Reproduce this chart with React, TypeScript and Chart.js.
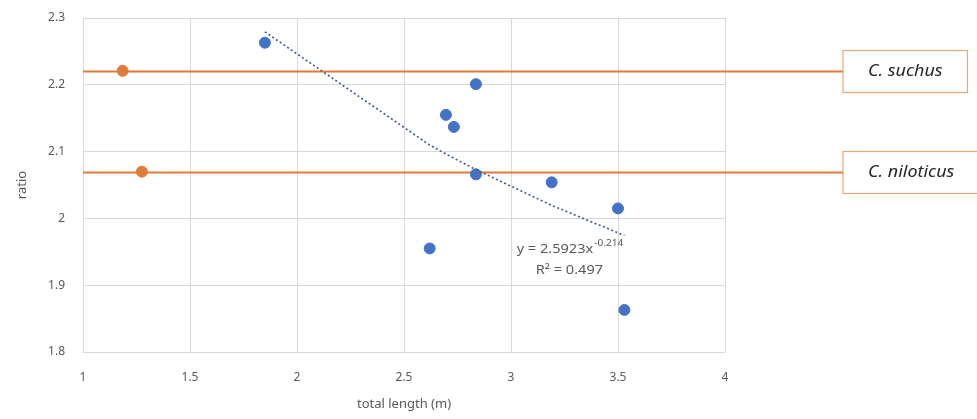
import React, { useEffect, useRef } from "react";
import { Chart, registerables } from "chart.js";

Chart.register(...registerables);

// ---- data ----
const lengthsM = [1.85, 2.836, 2.696, 2.733, 2.836, 3.19, 3.5, 2.62, 3.53];
const ratios = [2.263, 2.201, 2.155, 2.137, 2.066, 2.054, 2.015, 1.955, 1.863];

const speciesNames = ["C. suchus", "C. niloticus"];
const speciesX = [1.185, 1.275];
const speciesRatio = [2.221, 2.07];

const xTicks = [1, 1.5, 2, 2.5, 3, 3.5, 4];
const yTicks = [1.8, 1.9, 2.0, 2.1, 2.2, 2.3];

const equationText = "y = 2.5923x";
const equationExp = "-0.214";
const r2Text = "R² = 0.497";

// ---- power fit (ln y = ln a + b ln x), computed from data ----
function powerFit(xs: number[], ys: number[]) {
  const lx = xs.map(Math.log);
  const ly = ys.map(Math.log);
  const n = xs.length;
  const mx = lx.reduce((s, v) => s + v, 0) / n;
  const my = ly.reduce((s, v) => s + v, 0) / n;
  let sxy = 0, sxx = 0;
  for (let i = 0; i < n; i++) {
    sxy += (lx[i] - mx) * (ly[i] - my);
    sxx += (lx[i] - mx) ** 2;
  }
  const b = sxy / sxx;
  const a = Math.exp(my - b * mx);
  return { a, b };
}

const FONT = "'Noto Sans', 'DejaVu Sans', sans-serif";
const ORANGE = "#E07B39";
const BLUE = "#4472C4";
const GREY_TEXT = "#595959";

const annotationPlugin = {
  id: "speciesLines",
  beforeDatasetsDraw(chart: any) {
    const { ctx, scales } = chart;
    const xs = scales.x;
    const ys = scales.y;
    const boxLeft = 843;
    const boxH = 42;
    const sx = 1.12;
    ctx.save();
    ctx.font = `italic 16px ${FONT}`;
    speciesRatio.forEach((r, i) => {
      const y = Math.round(ys.getPixelForValue(r)) + 0.5;
      ctx.strokeStyle = ORANGE;
      ctx.lineWidth = 2;
      ctx.beginPath();
      ctx.moveTo(xs.left, y);
      ctx.lineTo(boxLeft, y);
      ctx.stroke();
      const tw = ctx.measureText(speciesNames[i]).width * sx;
      const w = tw + 50;
      ctx.fillStyle = "#ffffff";
      ctx.fillRect(boxLeft, y - boxH / 2, w, boxH);
      ctx.strokeStyle = "#E9A778";
      ctx.lineWidth = 1.2;
      ctx.strokeRect(boxLeft, y - boxH / 2, w, boxH);
      ctx.save();
      ctx.translate(boxLeft + w / 2, y);
      ctx.scale(sx, 1);
      ctx.fillStyle = "#262626";
      ctx.textAlign = "center";
      ctx.textBaseline = "middle";
      ctx.fillText(speciesNames[i], 0, 0);
      ctx.restore();
    });
    ctx.restore();
  },
  afterDatasetsDraw(chart: any) {
    const { ctx, scales } = chart;
    const px = scales.x.getPixelForValue(3.273);
    const py1 = scales.y.getPixelForValue(1.953);
    const py2 = scales.y.getPixelForValue(1.923);
    const sx = 1.12;
    ctx.save();
    ctx.fillStyle = GREY_TEXT;
    ctx.textBaseline = "middle";
    ctx.font = `13px ${FONT}`;
    const w1 = ctx.measureText(equationText).width * sx;
    ctx.font = `9px ${FONT}`;
    const w2 = ctx.measureText(equationExp).width * sx;
    const start = px - (w1 + w2) / 2;
    ctx.textAlign = "left";
    ctx.save();
    ctx.translate(start, py1);
    ctx.scale(sx, 1);
    ctx.font = `13px ${FONT}`;
    ctx.fillText(equationText, 0, 0);
    ctx.restore();
    ctx.save();
    ctx.translate(start + w1 + 1, py1 - 6);
    ctx.scale(sx, 1);
    ctx.font = `9px ${FONT}`;
    ctx.fillText(equationExp, 0, 0);
    ctx.restore();
    ctx.save();
    ctx.translate(px, py2);
    ctx.scale(sx, 1);
    ctx.font = `13px ${FONT}`;
    ctx.textAlign = "center";
    ctx.fillText(r2Text, 0, 0);
    ctx.restore();
    ctx.restore();
  },
};

export default function App() {
  const ref = useRef<HTMLCanvasElement | null>(null);

  useEffect(() => {
    if (!ref.current) return;
    const fit = powerFit(lengthsM, ratios);
    const sortedX = [...lengthsM].sort((p, q) => p - q);
    const trend = sortedX.map((x) => ({ x, y: fit.a * Math.pow(x, fit.b) }));

    const chart = new Chart(ref.current, {
      type: "scatter",
      data: {
        datasets: [
          {
            label: "trend",
            type: "line",
            data: trend,
            borderColor: "#3B5690",
            borderWidth: 1.6,
            borderDash: [2, 2.5],
            pointRadius: 0,
            fill: false,
            tension: 0,
          } as any,
          {
            label: "species",
            data: speciesX.map((x, i) => ({ x, y: speciesRatio[i] })),
            backgroundColor: ORANGE,
            borderColor: ORANGE,
            pointRadius: 5.5,
          },
          {
            label: "ratio",
            data: lengthsM.map((x, i) => ({ x, y: ratios[i] })),
            backgroundColor: BLUE,
            borderColor: BLUE,
            pointRadius: 5.5,
          },
        ],
      },
      options: {
        responsive: false,
        animation: false,
        layout: { padding: { left: 0, right: 252, top: 18, bottom: 0 } },
        plugins: {
          legend: { display: false },
          tooltip: { enabled: false },
        },
        scales: {
          x: {
            type: "linear",
            min: 1,
            max: 4,
            afterBuildTicks: (s: any) => {
              s.ticks = xTicks.map((v) => ({ value: v }));
            },
            afterFit: (s: any) => {
              s.height = 67;
              s.paddingLeft = 0;
              s.paddingRight = 0;
            },
            ticks: {
              padding: 18,
              color: GREY_TEXT,
              font: { family: FONT, size: 12 },
              callback: (v: any) => String(Number(Number(v).toFixed(2))),
            },
            grid: { color: "#D9D9D9", drawTicks: false, lineWidth: 1 },
            border: { display: false },
            title: {
              display: true,
              text: "total length (m)",
              color: GREY_TEXT,
              font: { family: FONT, size: 13 },
              padding: { top: 0, bottom: 7 },
            },
          },
          y: {
            type: "linear",
            min: 1.8,
            max: 2.3,
            afterBuildTicks: (s: any) => {
              s.ticks = yTicks.map((v) => ({ value: v }));
            },
            afterFit: (s: any) => {
              s.width = 83;
              s.paddingTop = 0;
              s.paddingBottom = 0;
            },
            ticks: {
              padding: 18,
              color: GREY_TEXT,
              font: { family: FONT, size: 12 },
              callback: (v: any) => String(Number(Number(v).toFixed(2))),
            },
            grid: { color: "#D9D9D9", drawTicks: false, lineWidth: 1 },
            border: { display: false },
            title: {
              display: true,
              text: "ratio",
              color: GREY_TEXT,
              font: { family: FONT, size: 13 },
              padding: { top: 14, bottom: 0 },
            },
          },
        },
      },
      plugins: [annotationPlugin],
    });
    return () => chart.destroy();
  }, []);

  return (
    <div style={{ position: "absolute", left: 0, top: 0, width: 977, height: 419, background: "#fff" }}>
      <canvas ref={ref} width={977} height={419} style={{ display: "block" }} />
    </div>
  );
}
